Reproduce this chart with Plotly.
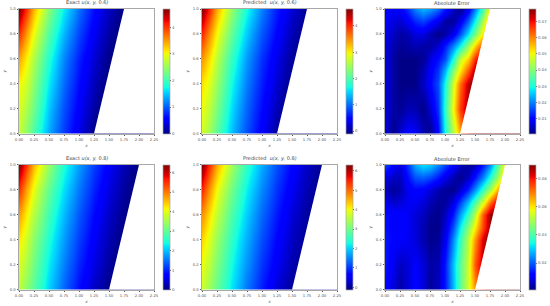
import plotly.graph_objects as go

x_grid = [0, .125, .25, .375, .5, .625, .75, .875, 1, 1.125, 1.25, 1.375, 1.5, 1.625, 1.75, 1.875, 2, 2.125, 2.25]
y_grid = [0, .2, .4, .6, .8, 1]
y_grid_error = [0, .2, .4, .5, .6, .7, .8, .9, 1]

exact_06 = [
 [2.75,2.42,2.06,1.68,1.36,1.08,.85,.62,.42,.22,.03,0],
 [2.90,2.60,2.25,1.85,1.50,1.20,.95,.72,.52,.32,.14,0],
 [3.05,2.80,2.42,2.02,1.66,1.35,1.07,.83,.62,.42,.24,.08,0],
 [3.45,3.05,2.62,2.20,1.84,1.50,1.20,.95,.72,.52,.34,.17,.03,0],
 [4.05,3.45,2.95,2.50,2.10,1.74,1.42,1.14,.90,.68,.48,.30,.14,.02,0],
 [4.70,4.00,3.35,2.85,2.40,2.02,1.68,1.38,1.10,.85,.62,.42,.26,.12,.01,0],
]
pred_06 = [
 [2.78,2.44,2.07,1.69,1.37,1.08,.84,.61,.41,.21,.01,-.05],
 [2.93,2.62,2.26,1.86,1.51,1.20,.95,.71,.51,.31,.12,-.05],
 [3.08,2.81,2.43,2.03,1.66,1.35,1.07,.82,.61,.41,.23,.06,-.05],
 [3.46,3.06,2.63,2.20,1.84,1.50,1.20,.94,.71,.51,.33,.15,.01,-.05],
 [4.03,3.45,2.95,2.50,2.10,1.74,1.42,1.13,.89,.67,.47,.29,.12,.01,-.05],
 [4.65,4.00,3.35,2.85,2.40,2.02,1.68,1.37,1.09,.84,.61,.41,.25,.10,-.02,-.05],
]
error_06 = [
 [.007,.001,.006,.010,.009,.004,.001,.010,.030,.044,.057,.070,.078],
 [.007,.003,.002,.004,.004,.001,.006,.014,.032,.050,.066,.076,.078],
 [.007,.003,.001,.001,.001,.005,.010,.016,.030,.047,.062,.074,.078],
 [.007,.003,.001,.001,.001,.004,.009,.014,.024,.040,.052,.064,.076,.078],
 [.007,.003,.001,.001,.001,.002,.007,.011,.016,.030,.046,.054,.068,.078],
 [.007,.004,.002,.003,.004,.003,.003,.006,.012,.020,.029,.042,.054,.066,.076],
 [.008,.005,.003,.004,.007,.007,.004,.001,.003,.008,.016,.027,.039,.052,.066],
 [.009,.007,.006,.009,.013,.015,.012,.008,.003,.002,.008,.017,.029,.044,.060],
 [.010,.009,.009,.014,.020,.024,.022,.018,.012,.005,.001,.008,.020,.034,.052],
]
exact_08 = [
 [3.70,3.30,2.90,2.50,2.10,1.75,1.42,1.12,.85,.60,.38,.20,.03,0],
 [3.95,3.55,3.10,2.68,2.28,1.92,1.60,1.30,1.02,.78,.55,.35,.17,.02,0],
 [4.25,3.80,3.30,2.88,2.48,2.10,1.78,1.46,1.18,.92,.68,.47,.28,.12,0],
 [4.75,4.15,3.62,3.15,2.72,2.32,1.97,1.64,1.35,1.08,.83,.60,.40,.22,.07,0],
 [5.50,4.65,4.00,3.45,3.00,2.58,2.20,1.86,1.55,1.27,1.00,.76,.54,.35,.18,.04,0],
 [6.40,5.40,4.55,3.95,3.40,2.90,2.48,2.12,1.78,1.47,1.19,.93,.69,.48,.29,.13,0],
]
pred_08 = [
 [3.72,3.31,2.91,2.51,2.11,1.75,1.42,1.11,.84,.59,.37,.18,.01,-.08],
 [3.97,3.56,3.11,2.69,2.29,1.92,1.60,1.29,1.01,.77,.54,.34,.15,.00,-.08],
 [4.27,3.81,3.31,2.89,2.48,2.10,1.78,1.45,1.17,.91,.67,.46,.26,.10,-.03,-.08],
 [4.75,4.16,3.63,3.15,2.72,2.32,1.97,1.63,1.34,1.07,.82,.59,.38,.20,.05,-.08],
 [5.47,4.65,4.00,3.45,3.00,2.58,2.20,1.85,1.54,1.26,.99,.75,.53,.33,.16,.02,-.08],
 [6.32,5.38,4.55,3.95,3.40,2.90,2.48,2.11,1.77,1.46,1.18,.92,.68,.46,.27,.11,-.02,-.08],
]
error_08 = [
 [.012,.008,.004,.008,.012,.008,.003,.006,.014,.028,.042,.055,.068,.080,.088,.090],
 [.014,.010,.006,.008,.011,.008,.004,.005,.014,.029,.042,.054,.074,.086,.090,.090],
 [.014,.012,.011,.010,.008,.005,.002,.003,.010,.024,.038,.052,.068,.084,.090,.090],
 [.013,.012,.012,.010,.008,.005,.002,.002,.008,.019,.033,.047,.060,.076,.088,.090],
 [.013,.012,.012,.010,.008,.006,.003,.002,.006,.014,.026,.038,.052,.074,.088,.090],
 [.010,.007,.008,.010,.010,.008,.005,.003,.003,.009,.018,.029,.041,.056,.072,.086,.090],
 [.006,.003,.005,.010,.012,.011,.008,.005,.003,.002,.007,.015,.025,.038,.050,.066,.082],
 [.009,.006,.006,.013,.019,.020,.018,.014,.009,.005,.002,.006,.014,.024,.036,.050,.064],
 [.018,.012,.008,.017,.027,.032,.030,.024,.018,.012,.006,.003,.005,.014,.024,.042,.060,.066],
]

titles = ["Exact <i>u(x, y,</i> 0.6<i>)</i>", "Predicted  <i>u(x, y,</i> 0.6<i>)</i>", "Absolute Error",
          "Exact <i>u(x, y,</i> 0.8<i>)</i>", "Predicted  <i>u(x, y,</i> 0.8<i>)</i>", "Absolute Error"]
panels = [exact_06, pred_06, error_06, exact_08, pred_08, error_08]
panel_y = [y_grid, y_grid, y_grid_error, y_grid, y_grid, y_grid_error]
z_ranges = [(0, 4.7), (-.1, 4.65), (.0005, .078), (0, 6.4), (-.12, 6.32), (.001, .09)]
bar_ticks = [[0,1,2,3,4], [0,1,2,3,4], [.01,.02,.03,.04,.05,.06,.07],
             [0,1,2,3,4,5,6], [0,1,2,3,4,5,6], [.02,.04,.06,.08]]
bar_labels = [["0","1","2","3","4"], ["0","1","2","3","4"],
              ["0.01","0.02","0.03","0.04","0.05","0.06","0.07"],
              ["0","1","2","3","4","5","6"], ["0","1","2","3","4","5","6"],
              ["0.02","0.04","0.06","0.08"]]
edge_x = [[1.25,1.75],[1.25,1.75],[1.25,1.75],[1.5,2.0],[1.5,2.0],[1.5,2.0]]
edge_y = [0, 1]
x_ticks = [0,.25,.5,.75,1,1.25,1.5,1.75,2,2.25]
x_labels = ["0.00","0.25","0.50","0.75","1.00","1.25","1.50","1.75","2.00","2.25"]
y_ticks = [0,.2,.4,.6,.8,1]
y_labels = ["0.0","0.2","0.4","0.6","0.8","1.0"]

jet = [[0,"rgb(0,0,128)"],[.11,"rgb(0,0,255)"],[.125,"rgb(0,0,255)"],[.34,"rgb(0,219,255)"],
       [.35,"rgb(0,230,247)"],[.375,"rgb(20,255,226)"],[.64,"rgb(238,255,8)"],[.65,"rgb(247,245,0)"],
       [.66,"rgb(255,236,0)"],[.89,"rgb(255,19,0)"],[.91,"rgb(232,0,0)"],[1,"rgb(128,0,0)"]]

W, H = 550, 306
col_px = [(19, 154), (202, 337), (385, 520)]
row_px = [(9, 133.5), (164.7, 289.7)]
bar_px = [162.7, 345.7, 528.7]
FRAME = "#a8a8a8"
TXT = "#555555"
FONT = "DejaVu Sans"

fig = go.Figure()
layout = dict(width=W, height=H, autosize=False, margin=dict(l=0, r=0, t=0, b=0, autoexpand=False),
              paper_bgcolor="white", plot_bgcolor="white", showlegend=False,
              font=dict(family=FONT, color=TXT, size=3.8))
ann = []
for i, rows in enumerate(panels):
    r, c = divmod(i, 3)
    xa, ya = ("x", "y") if i == 0 else (f"x{i+1}", f"y{i+1}")
    x0, x1 = col_px[c]
    y0, y1 = row_px[r]
    z = [row + [row[-1]] * (len(x_grid) - len(row)) for row in rows]
    fig.add_trace(go.Heatmap(
        x=x_grid, y=panel_y[i], z=z, xaxis=xa, yaxis=ya, colorscale=jet,
        zmin=z_ranges[i][0], zmax=z_ranges[i][1], zsmooth="best", hoverinfo="skip",
        colorbar=dict(x=bar_px[c]/W, xanchor="left", xpad=0, ypad=0,
                      y=1-(y0+y1)/2/H, yanchor="middle", len=(y1-y0)/H, lenmode="fraction",
                      thickness=6.5, thicknessmode="pixels", outlinewidth=0.7, outlinecolor=FRAME,
                      tickmode="array", tickvals=bar_ticks[i], ticktext=bar_labels[i],
                      ticks="outside", ticklen=1.5, tickwidth=0.5, tickcolor=TXT,
                      tickfont=dict(size=3.8, color=TXT, family=FONT))))
    ex = edge_x[i]
    fig.add_trace(go.Scatter(
        x=[ex[0], ex[1], x_ticks[-1], x_ticks[-1], ex[0]],
        y=[edge_y[0], edge_y[1], edge_y[1], edge_y[0], edge_y[0]],
        xaxis=xa, yaxis=ya, mode="lines", line=dict(width=0), fill="toself",
        fillcolor="white", hoverinfo="skip"))
    suffix = "" if i == 0 else str(i+1)
    layout["xaxis"+suffix] = dict(
        domain=[x0/W, x1/W], range=[0, 2.25], anchor=ya, tickmode="array", tickvals=x_ticks, ticktext=x_labels,
        ticks="outside", ticklen=1.5, tickwidth=0.5, tickcolor=TXT, showgrid=False, zeroline=False,
        showline=True, mirror=True, linecolor=FRAME, linewidth=1, tickangle=0,
        tickfont=dict(size=3.8, color=TXT, family=FONT),
        title=dict(text="<i>x</i>", font=dict(size=4.2, color=TXT, family=FONT), standoff=3))
    layout["yaxis"+suffix] = dict(
        domain=[1-y1/H, 1-y0/H], range=[0, 1], anchor=xa, tickmode="array", tickvals=y_ticks, ticktext=y_labels,
        ticks="outside", ticklen=1.5, tickwidth=0.5, tickcolor=TXT, showgrid=False, zeroline=False,
        showline=True, mirror=True, linecolor=FRAME, linewidth=1,
        tickfont=dict(size=3.8, color=TXT, family=FONT),
        title=dict(text="<i>y</i>", font=dict(size=4.2, color=TXT, family=FONT), standoff=3))
    ann.append(dict(text=titles[i], x=(x0+x1)/2/W, y=1-(y0-1.2)/H, xref="paper", yref="paper",
                    xanchor="center", yanchor="bottom", showarrow=False,
                    font=dict(size=5, color="#444444", family=FONT)))
layout["annotations"] = ann
fig.update_layout(**layout)
fig.write_html("out.html", config={"displayModeBar": False},
               post_script="document.body.style.margin='0';document.body.style.overflow='hidden';")
